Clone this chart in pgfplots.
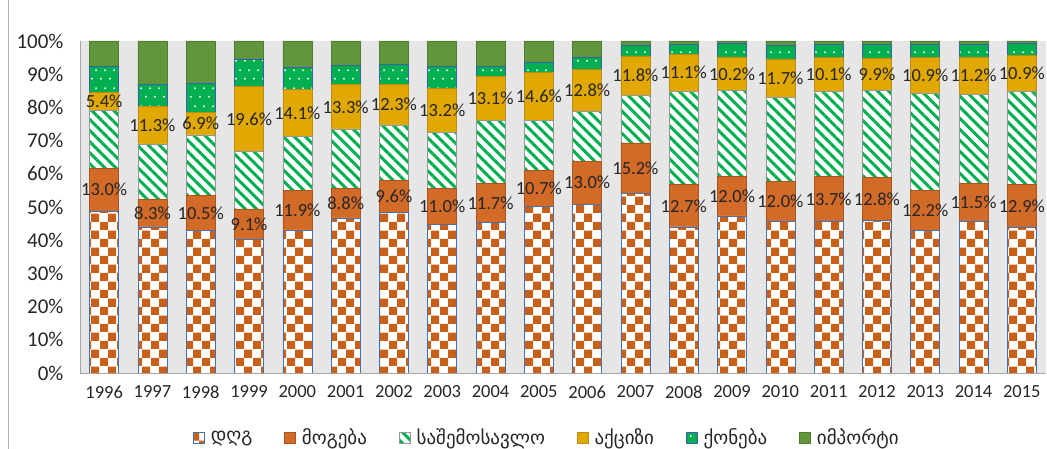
\documentclass[border=0pt]{standalone}
\usepackage{fontspec}
\setmainfont{Carlito}
\newfontfamily\geo{DejaVu Sans}
\usepackage{pgfplots}
\usepackage{pgfplotstable}
\pgfplotsset{compat=1.18}
\usetikzlibrary{patterns,patterns.meta}

\definecolor{vatc}{RGB}{201,96,26}
\definecolor{vatb}{RGB}{70,112,175}
\definecolor{profc}{RGB}{210,106,40}
\definecolor{profb}{RGB}{170,85,30}
\definecolor{strc}{RGB}{0,176,80}
\definecolor{incb}{RGB}{150,150,150}
\definecolor{excc}{RGB}{224,168,0}
\definecolor{excb}{RGB}{185,140,20}
\definecolor{propc}{RGB}{0,176,80}
\definecolor{propb}{RGB}{60,95,170}
\definecolor{impc}{RGB}{98,150,62}
\definecolor{impb}{RGB}{80,125,50}
\definecolor{bgc}{RGB}{230,230,230}
\definecolor{txtc}{RGB}{38,38,38}

\pgfdeclarepattern{name=checker, type=uncolored,
  bottom left={\pgfpoint{0pt}{0pt}}, top right={\pgfpoint{16.6pt}{16.6pt}},
  tile size={\pgfpoint{16.6pt}{16.6pt}},
  code={\pgfpathrectangle{\pgfpoint{0pt}{0pt}}{\pgfpoint{8.3pt}{8.3pt}}
        \pgfpathrectangle{\pgfpoint{8.3pt}{8.3pt}}{\pgfpoint{8.3pt}{8.3pt}}
        \pgfusepath{fill}}}
\pgfdeclarepattern{name=wdots, type=uncolored,
  bottom left={\pgfpoint{0pt}{0pt}}, top right={\pgfpoint{9pt}{17.4pt}},
  tile size={\pgfpoint{9pt}{17.4pt}},
  code={\pgfpathcircle{\pgfpoint{2.2pt}{4.35pt}}{1.1pt}
        \pgfpathcircle{\pgfpoint{6.7pt}{13.05pt}}{1.1pt}
        \pgfusepath{fill}}}

\pgfplotstableread{
x year vat prof inc exc prop imp
0 1996 48.7 13.0 17.3 5.4 7.9 7.7
1 1997 44.0 8.3 16.7 11.3 6.6 13.1
2 1998 42.9 10.5 18.3 6.9 8.6 12.8
3 1999 40.3 9.1 17.3 19.6 8.2 5.5
4 2000 43.1 11.9 16.2 14.1 6.8 7.9
5 2001 46.7 8.8 18.0 13.3 5.9 7.3
6 2002 48.4 9.6 16.7 12.3 6.0 7.0
7 2003 44.7 11.0 16.7 13.2 6.9 7.5
8 2004 45.3 11.7 19.2 13.1 3.2 7.5
9 2005 50.3 10.7 15.0 14.6 3.0 6.4
10 2006 50.8 13.0 14.9 12.8 3.6 4.9
11 2007 54.1 15.2 14.4 11.8 3.2 1.3
12 2008 44.0 12.7 28.2 11.1 3.0 1.0
13 2009 47.3 12.0 25.7 10.2 4.1 0.7
14 2010 45.7 12.0 25.2 11.7 4.0 1.4
15 2011 45.6 13.7 25.6 10.1 4.0 1.0
16 2012 46.0 12.8 26.2 9.9 4.1 1.0
17 2013 42.9 12.2 29.1 10.9 3.9 1.0
18 2014 45.7 11.5 26.8 11.2 3.8 1.0
19 2015 43.9 12.9 27.9 10.9 3.7 0.7
}\data
\pgfplotstablecreatecol[create col/expr={\thisrow{vat}+\thisrow{prof}/2}]{pc}{\data}
\pgfplotstablecreatecol[create col/expr={\thisrow{vat}+\thisrow{prof}+\thisrow{inc}+\thisrow{exc}/2}]{ec}{\data}

\pgfplotsset{legsq/.style={legend image code/.code={\draw[##1,line width=0.6pt] (0pt,-6pt) rectangle (11pt,5pt);}}}

\begin{document}
\begin{tikzpicture}
\useasboundingbox (-80pt,-76pt) rectangle (967pt,373pt);
\draw[gray!60, line width=0.8pt] (-72pt,-76pt) -- (-72pt,373pt);
\begin{axis}[
  at={(0,0)}, anchor=south west,
  scale only axis, width=966pt, height=332pt,
  xmin=-0.5, xmax=19.5, ymin=0, ymax=100,
  ybar stacked, bar width=29pt,
  axis background/.style={fill=bgc},
  axis lines*=left,
  axis line style={draw=gray!70, line width=0.8pt},
  major tick length=0pt,
  xtick={0,...,19},
  xticklabels from table={\data}{year},
  ytick={0,10,...,100},
  yticklabels={0\%,10\%,20\%,30\%,40\%,50\%,60\%,70\%,80\%,90\%,100\%},
  /pgf/number format/assume math mode=true,
  xticklabel style={font=\fontsize{18.5}{18.5}\selectfont, text=txtc, yshift=-9pt},
  yticklabel style={font=\fontsize{21}{21}\selectfont, text=txtc, xshift=-13pt},
  legend style={at={(0.4834,-0.193)}, anchor=center, draw=none, fill=none,
    font=\geo\fontsize{19}{20}\selectfont, text=txtc,
    /tikz/every even column/.append style={column sep=30pt},
    /tikz/every odd column/.append style={column sep=4pt}},
  legend columns=6,
]
\addplot[fill=white, draw=vatb, line width=0.7pt, postaction={pattern=checker, pattern color=vatc}, legsq] table[x=x,y=vat]{\data};
\addlegendentry{დღგ}
\addplot[fill=profc, draw=profb, line width=0.7pt, legsq] table[x=x,y=prof]{\data};
\addlegendentry{მოგება}
\addplot[fill=white, draw=incb, line width=0.7pt, postaction={pattern={Lines[angle=-45,distance=7.8pt,line width=3pt]}, pattern color=strc}, legsq] table[x=x,y=inc]{\data};
\addlegendentry{საშემოსავლო}
\addplot[fill=excc, draw=excb, line width=0.7pt, legsq] table[x=x,y=exc]{\data};
\addlegendentry{აქციზი}
\addplot[fill=propc, draw=propb, line width=0.7pt, postaction={pattern=wdots, pattern color=white}, legsq] table[x=x,y=prop]{\data};
\addlegendentry{ქონება}
\addplot[fill=impc, draw=impb, line width=0.7pt, legsq] table[x=x,y=imp]{\data};
\addlegendentry{იმპორტი}
\end{axis}
\begin{axis}[
  at={(0,0)}, anchor=south west,
  scale only axis, width=966pt, height=332pt,
  xmin=-0.5, xmax=19.5, ymin=0, ymax=100, hide axis, clip=false]
\addplot[draw=none, mark=none, point meta=explicit symbolic,
  nodes near coords={\pgfplotspointmeta\%},
  nodes near coords style={anchor=center, inner sep=0pt, font=\fontsize{18.5}{19}\selectfont, text=txtc}]
  table[x=x, y=pc, meta=prof]{\data};
\addplot[draw=none, mark=none, point meta=explicit symbolic,
  nodes near coords={\pgfplotspointmeta\%},
  nodes near coords style={anchor=center, inner sep=0pt, font=\fontsize{18.5}{19}\selectfont, text=txtc}]
  table[x=x, y=ec, meta=exc]{\data};
\end{axis}
\end{tikzpicture}
\end{document}
